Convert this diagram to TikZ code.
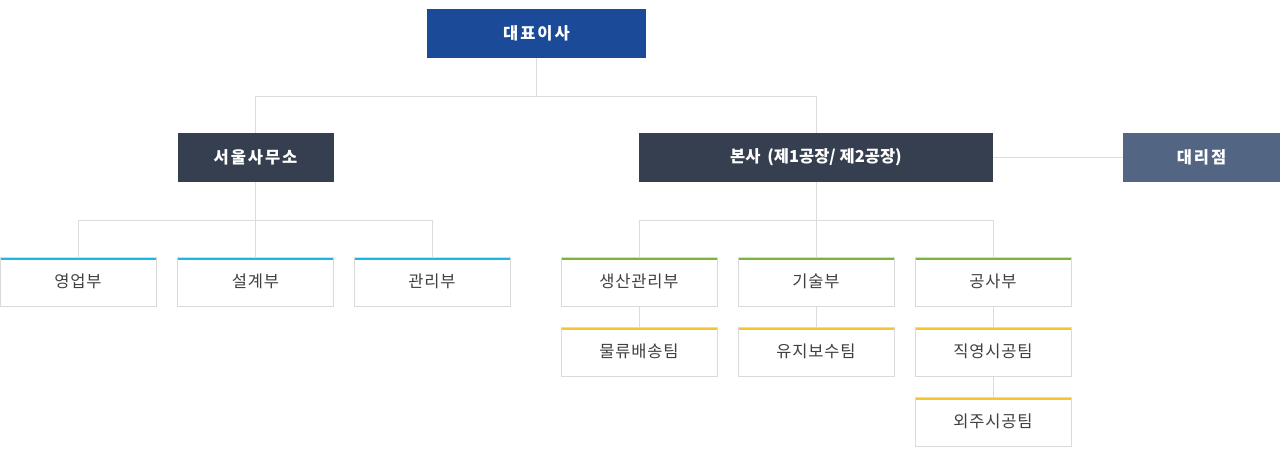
\documentclass[tikz,border=0pt]{standalone}
\usepackage{fontspec}
\setmainfont{Noto Sans CJK KR}
\definecolor{topblue}{HTML}{1B4A98}
\definecolor{darkbox}{HTML}{363F4F}
\definecolor{agentbox}{HTML}{526582}
\definecolor{linegray}{HTML}{DCDCDC}
\definecolor{bordergray}{HTML}{DADADA}
\definecolor{cyanbar}{HTML}{1CB8E2}
\definecolor{greenbar}{HTML}{7AB43A}
\definecolor{yellowbar}{HTML}{F5C52E}
\definecolor{txtgray}{HTML}{404040}
\tikzset{
  headbox/.style={minimum height=49pt, inner sep=0pt, text=white,
    font=\fontsize{16.5}{19}\selectfont\bfseries\addfontfeatures{LetterSpace=12}},
  deptbox/.style={minimum width=156pt, minimum height=49pt, inner sep=0pt,
    fill=white, draw=bordergray, line width=1pt, text=txtgray,
    font=\fontsize{16.5}{19}\selectfont\addfontfeatures{LetterSpace=5}},
  bar/.style={path picture={\fill[#1] (path picture bounding box.north west) rectangle ([yshift=-2.5pt]path picture bounding box.north east);}},
  conn/.style={draw=linegray, line width=1pt}
}
\begin{document}
\begin{tikzpicture}[x=1pt,y=-1pt]
\useasboundingbox (0,0) rectangle (1280,453);
% head nodes
\node[headbox, fill=topblue, minimum width=219pt] (ceo) at (536.5,33.5) {대표이사};
\node[headbox, fill=darkbox, minimum width=156pt] (seoul) at (255.5,157.5) {서울사무소};
\node[headbox, fill=darkbox, minimum width=354pt,
  font=\fontsize{16.5}{19}\selectfont\bfseries\addfontfeatures{LetterSpace=0}] (hq) at (816,157.5) {본사\hspace{3pt} (제1공장/ 제2공장)};
\node[headbox, fill=agentbox, minimum width=157pt] (agent) at (1201.5,157.5) {대리점};
% departments
\node[deptbox, bar=cyanbar] (sales) at (78,281.5) {영업부};
\node[deptbox, bar=cyanbar] (design) at (255.5,281.5) {설계부};
\node[deptbox, bar=cyanbar] (admin) at (432,281.5) {관리부};
\node[deptbox, bar=greenbar] (prod) at (639,281.5) {생산관리부};
\node[deptbox, bar=greenbar] (tech) at (816,281.5) {기술부};
\node[deptbox, bar=greenbar] (const) at (993,281.5) {공사부};
\node[deptbox, bar=yellowbar] (logi) at (639,351.5) {물류배송팀};
\node[deptbox, bar=yellowbar] (maint) at (816,351.5) {유지보수팀};
\node[deptbox, bar=yellowbar] (direct) at (993,351.5) {직영시공팀};
\node[deptbox, bar=yellowbar] (outs) at (993,421.5) {외주시공팀};
% junction coordinates
\coordinate (j0) at (537,96);
\coordinate (j1) at (0,220);
% connectors
\draw[conn] (ceo.south) -- (ceo.south |- j0);
\draw[conn] (seoul.north) -- (seoul.north |- j0) -| (hq.north);
\draw[conn] (hq.east) -- (agent.west);
\draw[conn] (seoul.south) -- (design.north);
\draw[conn] (sales.north) -- (sales.north |- j1) -| (admin.north);
\draw[conn] (hq.south) -- (tech.north);
\draw[conn] (prod.north) -- (prod.north |- j1) -| (const.north);
\draw[conn] (prod.south) -- (logi.north);
\draw[conn] (tech.south) -- (maint.north);
\draw[conn] (const.south) -- (direct.north);
\draw[conn] (direct.south) -- (outs.north);
\end{tikzpicture}
\end{document}
